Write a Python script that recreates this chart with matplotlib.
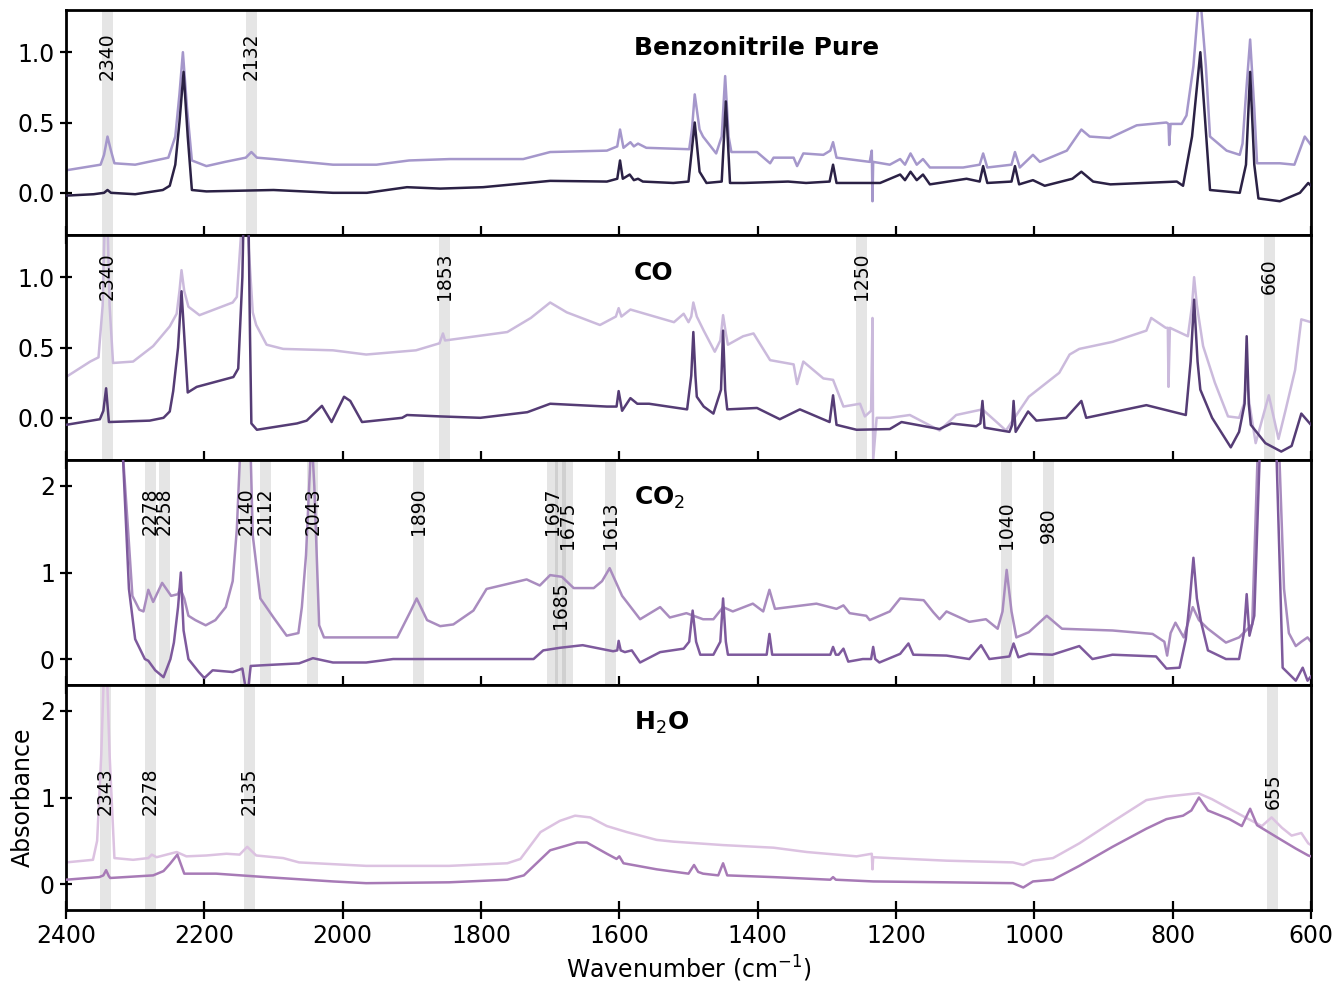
import matplotlib
matplotlib.use("Agg")
import matplotlib.pyplot as plt

# ---------------- data ----------------
x_ticks = [2400, 2200, 2000, 1800, 1600, 1400, 1200, 1000, 800, 600]
titles = ["Benzonitrile Pure", "CO", "CO$_2$", "H$_2$O"]

# Panel 1 : Benzonitrile pure
p1_dark_wn = [2400, 2360, 2345, 2340, 2335, 2300, 2260, 2250, 2242, 2236, 2230, 2224, 2218, 2197,
              2100, 2014, 1965, 1907, 1859, 1797, 1700, 1618, 1603, 1599, 1595, 1585, 1579, 1573, 1566, 1522,
              1500, 1491, 1484, 1474, 1452, 1446, 1440, 1420, 1356, 1330, 1296, 1291, 1286, 1235,
              1223, 1194, 1187, 1179, 1170, 1161, 1151, 1098, 1079, 1074, 1068, 1033, 1028, 1022,
              1002, 985, 945, 932, 915, 890, 794, 785, 772, 760, 750, 746, 703, 694, 688, 682, 676,
              645, 616, 604, 600]
p1_dark_ab = [-0.02, -0.01, 0.0, 0.02, 0.0, -0.01, 0.02, 0.05, 0.2, 0.5, 0.86, 0.4, 0.02, 0.01,
              0.02, 0.0, 0.0, 0.04, 0.03, 0.04, 0.085, 0.08, 0.1, 0.23, 0.1, 0.13, 0.09, 0.1, 0.08, 0.07,
              0.08, 0.5, 0.15, 0.07, 0.08, 0.65, 0.07, 0.07, 0.08, 0.07, 0.08, 0.2, 0.07, 0.07,
              0.07, 0.13, 0.09, 0.15, 0.09, 0.13, 0.06, 0.1, 0.08, 0.19, 0.07, 0.08, 0.19, 0.06,
              0.09, 0.05, 0.1, 0.15, 0.08, 0.06, 0.08, 0.05, 0.4, 1.0, 0.3, 0.02, 0.0, 0.2, 0.86, 0.2,
              -0.04, -0.06, 0.0, 0.07, 0.05]

p1_light_wn = [2400, 2350, 2345, 2340, 2335, 2330, 2300, 2252, 2242, 2236, 2231, 2225, 2218, 2197,
               2170, 2140, 2132, 2124, 2100, 2014, 1951, 1904, 1845, 1800, 1739, 1700, 1618, 1603, 1599,
               1594, 1584, 1579, 1573, 1561, 1499, 1495, 1491, 1484, 1479, 1460, 1452, 1447, 1442, 1438,
               1401, 1382, 1377, 1348, 1343, 1334, 1305, 1295, 1291, 1286, 1238, 1235, 1234, 1233, 1209,
               1194, 1187, 1179, 1170, 1161, 1151, 1103, 1079, 1074, 1068, 1033, 1028, 1021, 1002, 992,
               953, 932, 920, 891, 852, 809, 806, 805, 803, 787, 780, 770, 761, 752, 746, 722, 703, 699,
               694, 688, 682, 678, 645, 624, 609, 600]
p1_light_ab = [0.16, 0.2, 0.27, 0.4, 0.3, 0.21, 0.2, 0.25, 0.4, 0.7, 1.0, 0.6, 0.23, 0.19,
               0.22, 0.25, 0.29, 0.25, 0.24, 0.2, 0.2, 0.23, 0.24, 0.24, 0.24, 0.29, 0.3, 0.33, 0.45,
               0.32, 0.36, 0.33, 0.35, 0.32, 0.31, 0.45, 0.7, 0.45, 0.4, 0.28, 0.4, 0.83, 0.4, 0.29,
               0.29, 0.21, 0.25, 0.25, 0.19, 0.28, 0.27, 0.3, 0.36, 0.25, 0.22, 0.3, -0.06, 0.22, 0.2,
               0.24, 0.2, 0.28, 0.2, 0.24, 0.18, 0.18, 0.2, 0.28, 0.18, 0.2, 0.29, 0.18, 0.27, 0.22,
               0.3, 0.45, 0.4, 0.39, 0.48, 0.5, 0.49, 0.34, 0.49, 0.49, 0.55, 0.9, 1.45, 0.9, 0.4, 0.3, 0.27, 0.35,
               0.7, 1.09, 0.6, 0.21, 0.21, 0.2, 0.4, 0.34]

# Panel 2 : CO
p2_dark_wn = [2400, 2351, 2346, 2342, 2338, 2279, 2259, 2250, 2245, 2238, 2233, 2228, 2224, 2211,
              2158, 2151, 2145, 2139, 2134, 2132, 2124, 2066, 2052, 2030, 2016, 1998, 1989, 1972, 1914, 1907,
              1859, 1801, 1733, 1700, 1618, 1604, 1601, 1596, 1584, 1574, 1557, 1502, 1496, 1493, 1490,
              1488, 1478, 1464, 1453, 1450, 1447, 1444, 1401, 1368, 1339, 1296, 1291, 1286, 1257,
              1209, 1192, 1137, 1120, 1084, 1078, 1075, 1072, 1036, 1032, 1030, 1027, 1009, 997,
              954, 932, 925, 838, 781, 774, 769, 764, 760, 743, 716, 704, 696, 693, 690, 687, 666,
              643, 628, 614, 600]
p2_dark_ab = [-0.05, -0.01, 0.05, 0.21, -0.03, -0.02, 0.0, 0.045, 0.19, 0.5, 0.9, 0.5, 0.18, 0.22,
              0.29, 0.35, 1.0, 2.5, 0.6, -0.04, -0.085, -0.04, -0.02, 0.085, -0.03, 0.15, 0.12, -0.03, 0.0, 0.02,
              0.01, 0.0, 0.04, 0.1, 0.08, 0.08, 0.19, 0.05, 0.14, 0.1, 0.1, 0.06, 0.3, 0.61, 0.3,
              0.15, 0.08, 0.03, 0.2, 0.62, 0.2, 0.06, 0.07, -0.01, 0.06, -0.03, 0.16, -0.05, -0.085,
              -0.08, -0.03, -0.08, -0.04, -0.06, -0.04, 0.12, -0.07, -0.1, -0.05, 0.12, -0.1, 0.045, -0.02,
              0.0, 0.12, 0.0, 0.09, 0.02, 0.4, 0.84, 0.4, 0.2, 0.0, -0.21, -0.1, 0.1, 0.58, 0.1, -0.05, -0.18,
              -0.24, -0.2, 0.03, -0.05]

p2_light_wn = [2400, 2365, 2353, 2347, 2342, 2337, 2332, 2303, 2274, 2250, 2240, 2236, 2233, 2229,
               2223, 2207, 2159, 2153, 2147, 2142, 2137, 2130, 2125, 2110, 2086, 2014, 1966, 1894, 1860,
               1855, 1852, 1762, 1728, 1700, 1676, 1628, 1605, 1601, 1597, 1584, 1521, 1507, 1500, 1496,
               1493, 1488, 1478, 1462, 1454, 1450, 1446, 1443, 1421, 1406, 1382, 1348, 1343, 1334, 1305,
               1291, 1276, 1252, 1245, 1236, 1234, 1233, 1228, 1209, 1180, 1137, 1113, 1075, 1041, 1008,
               964, 949, 935, 887, 838, 831, 810, 807, 806, 804, 778, 772, 769, 765, 756, 739, 720, 704,
               697, 693, 689, 680, 661, 647, 637, 623, 614, 600]
p2_light_ab = [0.29, 0.4, 0.43, 0.8, 1.8, 0.8, 0.39, 0.4, 0.51, 0.65, 0.74, 0.9, 1.05, 0.9,
               0.79, 0.73, 0.82, 0.86, 1.3, 2.0, 1.3, 0.75, 0.66, 0.52, 0.49, 0.48, 0.45, 0.48, 0.53,
               0.6, 0.55, 0.61, 0.71, 0.82, 0.75, 0.66, 0.72, 0.78, 0.72, 0.77, 0.68, 0.74, 0.68, 0.72,
               0.82, 0.72, 0.62, 0.47, 0.55, 0.73, 0.6, 0.52, 0.58, 0.6, 0.41, 0.38, 0.24, 0.4, 0.28,
               0.27, 0.08, 0.1, 0.01, 0.05, 0.71, -0.3, 0.0, 0.0, 0.02, -0.09, 0.02, 0.06, -0.09, 0.15,
               0.32, 0.45, 0.49, 0.54, 0.62, 0.71, 0.64, 0.64, 0.22, 0.64, 0.58, 0.8, 1.0, 0.8, 0.51, 0.25, 0.01, 0.0,
               0.1, 0.28, 0.1, -0.18, 0.16, -0.15, 0.05, 0.34, 0.7, 0.68]

# Panel 3 : CO2
p3_dark_wn = [2400, 2330, 2318, 2309, 2300, 2286, 2281, 2271, 2259, 2249, 2244, 2238, 2234, 2230, 2223,
              2208, 2200, 2188, 2159, 2145, 2141, 2139, 2136, 2133, 2111, 2063, 2043, 2014, 1966, 1927,
              1846, 1811, 1724, 1710, 1686, 1653, 1609, 1603, 1601, 1598, 1592, 1582, 1570, 1541,
              1507, 1499, 1494, 1489, 1483, 1464, 1454, 1450, 1446, 1443, 1387, 1383, 1379, 1295,
              1291, 1287, 1283, 1276, 1269, 1248, 1236, 1233, 1230, 1224, 1194, 1182, 1175, 1127, 1094,
              1077, 1065, 1036, 1030, 1023, 1008, 974, 935, 916, 887, 824, 809, 790, 781, 775, 770, 765,
              759, 749, 723, 704, 697, 693, 689, 682, 674, 662, 650, 641, 622, 612, 605, 600]
p3_dark_ab = [5.0, 3.5, 2.4, 0.81, 0.23, 0.0, -0.02, -0.13, -0.21, 0.0, 0.19, 0.6, 1.0, 0.33, 0.0,
              -0.15, -0.22, -0.13, -0.15, -0.11, -0.3, -0.5, -0.3, -0.08, -0.07, -0.05, 0.01, -0.04, -0.04, 0.0,
              0.0, 0.0, 0.0, 0.1, 0.13, 0.16, 0.09, 0.1, 0.21, 0.1, 0.08, 0.1, -0.04, 0.08,
              0.12, 0.2, 0.56, 0.2, 0.05, 0.05, 0.2, 0.7, 0.2, 0.05, 0.05, 0.29, 0.05, 0.05,
              0.14, 0.05, 0.05, 0.12, -0.03, 0.0, 0.0, 0.14, 0.0, -0.04, 0.06, 0.18, 0.05, 0.04, 0.0,
              0.16, 0.0, 0.03, 0.18, 0.02, 0.06, 0.05, 0.15, 0.0, 0.05, 0.03, -0.11, -0.1, 0.23, 0.7, 1.17, 0.7,
              0.43, 0.1, 0.0, 0.0, 0.3, 0.75, 0.27, 0.5, 2.4, 4.0, 2.4, -0.1, -0.25, -0.1, -0.25, -0.2]

p3_light_wn = [2400, 2330, 2318, 2311, 2304, 2294, 2288, 2281, 2274, 2261, 2248, 2238, 2235, 2229, 2223,
               2213, 2198, 2184, 2169, 2159, 2153, 2145, 2140, 2135, 2130, 2119, 2100, 2081, 2064, 2059,
               2053, 2045, 2041, 2034, 2027, 1921, 1902, 1893, 1878, 1859, 1840, 1811, 1792, 1734, 1715,
               1700, 1683, 1666, 1637, 1625, 1614, 1596, 1570, 1541, 1527, 1503, 1479, 1464, 1450, 1436,
               1407, 1392, 1383, 1375, 1315, 1286, 1276, 1267, 1243, 1238, 1209, 1194, 1160, 1146, 1137,
               1127, 1094, 1070, 1053, 1046, 1040, 1033, 1026, 1008, 982, 960, 887, 829, 812, 808, 803,
               796, 784, 771, 762, 749, 723, 704, 685, 677, 662, 646, 639, 632, 622, 614, 605, 600]
p3_light_ab = [5.0, 3.5, 2.4, 1.58, 0.73, 0.57, 0.55, 0.8, 0.66, 0.88, 0.73, 0.75, 0.82, 0.7, 0.5,
               0.45, 0.39, 0.45, 0.6, 0.9, 1.5, 3.0, 4.0, 3.0, 1.43, 0.7, 0.48, 0.27, 0.3, 0.6,
               1.2, 2.6, 2.0, 0.39, 0.25, 0.25, 0.55, 0.7, 0.45, 0.38, 0.4, 0.56, 0.81, 0.92, 0.85,
               0.97, 0.95, 0.82, 0.82, 0.9, 1.05, 0.73, 0.46, 0.6, 0.48, 0.53, 0.46, 0.46, 0.6, 0.55,
               0.64, 0.55, 0.8, 0.58, 0.64, 0.58, 0.62, 0.53, 0.5, 0.45, 0.55, 0.7, 0.68, 0.54, 0.46,
               0.55, 0.43, 0.46, 0.35, 0.55, 1.03, 0.55, 0.25, 0.31, 0.5, 0.35, 0.33, 0.29, 0.2, 0.04, 0.3,
               0.42, 0.25, 0.6, 0.45, 0.35, 0.19, 0.25, 0.4, 2.4, 4.0, 2.4, 0.81, 0.3, 0.15, 0.2, 0.25, 0.2]

# Panel 4 : H2O
p4_dark_wn = [2400, 2352, 2346, 2342, 2338, 2336, 2274, 2259, 2250, 2239, 2229, 2183, 2111, 2014, 1966,
              1846, 1762, 1738, 1700, 1661, 1647, 1618, 1604, 1600, 1594, 1546, 1500, 1492, 1486,
              1479, 1457, 1450, 1444, 1377, 1295, 1291, 1287, 1233, 1127, 1031, 1016, 1002, 973, 935,
              887, 838, 809, 785, 773, 762, 749, 718, 700, 688, 678, 645, 622, 604, 600]
p4_dark_ab = [0.05, 0.08, 0.1, 0.16, 0.09, 0.07, 0.1, 0.15, 0.23, 0.34, 0.12, 0.12, 0.08, 0.03, 0.01,
              0.02, 0.05, 0.1, 0.39, 0.48, 0.48, 0.35, 0.29, 0.32, 0.24, 0.17, 0.12, 0.22, 0.14,
              0.12, 0.1, 0.24, 0.1, 0.08, 0.05, 0.08, 0.05, 0.03, 0.02, 0.01, -0.04, 0.03, 0.05, 0.21,
              0.43, 0.64, 0.75, 0.79, 0.85, 1.0, 0.85, 0.75, 0.67, 0.87, 0.68, 0.52, 0.41, 0.33, 0.32]

p4_light_wn = [2400, 2361, 2355, 2349, 2343, 2337, 2330, 2303, 2281, 2276, 2269, 2240, 2226, 2197, 2168,
               2149, 2138, 2125, 2086, 2063, 1966, 1846, 1762, 1743, 1714, 1686, 1664, 1642, 1618, 1589,
               1546, 1522, 1450, 1377, 1329, 1257, 1235, 1234, 1233, 1209, 1127, 1031, 1016, 1002, 973,
               935, 887, 838, 809, 763, 743, 695, 671, 657, 642, 628, 614, 604, 600]
p4_light_ab = [0.25, 0.28, 0.5, 1.5, 3.0, 1.5, 0.3, 0.28, 0.3, 0.34, 0.31, 0.37, 0.32, 0.33, 0.35,
               0.34, 0.43, 0.33, 0.3, 0.25, 0.21, 0.21, 0.24, 0.29, 0.6, 0.73, 0.79, 0.77, 0.67, 0.6,
               0.51, 0.49, 0.45, 0.42, 0.37, 0.32, 0.35, 0.17, 0.31, 0.3, 0.27, 0.25, 0.22, 0.27, 0.3,
               0.47, 0.72, 0.97, 1.01, 1.05, 0.98, 0.77, 0.67, 0.77, 0.65, 0.56, 0.59, 0.47, 0.45]

# marked band positions (cm-1) and label heights per panel
p1_bands = [2340, 2132]
p1_label_y = [0.97, 0.97]
p2_bands = [2340, 1853, 1250, 660]
p2_label_y = [1.01, 1.01, 1.01, 1.01]
p3_bands = [2278, 2258, 2140, 2112, 2043, 1890, 1697, 1685, 1675, 1613, 1040, 980]
p3_label_y = [1.71, 1.71, 1.71, 1.71, 1.71, 1.71, 1.71, 0.62, 1.55, 1.55, 1.55, 1.55]
p4_bands = [2343, 2278, 2135, 655]
p4_label_y = [1.07, 1.07, 1.07, 1.07]

# ---------------- styling ----------------
dark_colors = ["#2b2145", "#553c75", "#7e5a9d", "#a77ab6"]
light_colors = ["#a597cb", "#cbbadc", "#a98cbf", "#dcc2e1"]
ylims = [(-0.3, 1.3), (-0.3, 1.3), (-0.3, 2.3), (-0.3, 2.3)]
yticks = [[0.0, 0.5, 1.0], [0.0, 0.5, 1.0], [0, 1, 2], [0, 1, 2]]
ytick_fmt = ["{:.1f}", "{:.1f}", "{:d}", "{:d}"]

panels = [
    (p1_dark_wn, p1_dark_ab, p1_light_wn, p1_light_ab, p1_bands, p1_label_y),
    (p2_dark_wn, p2_dark_ab, p2_light_wn, p2_light_ab, p2_bands, p2_label_y),
    (p3_dark_wn, p3_dark_ab, p3_light_wn, p3_light_ab, p3_bands, p3_label_y),
    (p4_dark_wn, p4_dark_ab, p4_light_wn, p4_light_ab, p4_bands, p4_label_y),
]

fig, axes = plt.subplots(4, 1, figsize=(13.44, 9.9), dpi=100, sharex=True)
fig.subplots_adjust(left=66 / 1344, right=1311 / 1344, top=1 - 10 / 990,
                    bottom=1 - 910 / 990, hspace=0)

for i, (ax, pan) in enumerate(zip(axes, panels)):
    dwn, dab, lwn, lab, bands, laby = pan
    for b, yb in zip(bands, laby):
        ax.axvspan(b - 8, b + 8, color="gray", alpha=0.2, lw=0, zorder=0)
        ax.text(b, yb, str(b), rotation=90, ha="center", va="center",
                fontsize=13.5, zorder=5)
    ax.plot(lwn, lab, color=light_colors[i], lw=1.8, zorder=2)
    ax.plot(dwn, dab, color=dark_colors[i], lw=1.8, zorder=3)
    ax.text(0.456, 0.83, titles[i], transform=ax.transAxes, ha="left", va="center",
            fontsize=18, fontweight="bold")
    ax.set_ylim(*ylims[i])
    ax.set_yticks(yticks[i])
    ax.set_yticklabels([ytick_fmt[i].format(v) for v in yticks[i]])
    ax.tick_params(axis="y", direction="inout", length=9, width=1.6, labelsize=17)
    ax.tick_params(axis="x", direction="inout", length=13, width=1.6, labelsize=17)
    for s in ax.spines.values():
        s.set_linewidth(2)

axes[-1].set_xlim(2400, 600)
axes[-1].set_xticks(x_ticks)
axes[-1].set_xticklabels([str(v) for v in x_ticks])
axes[-1].set_xlabel("Wavenumber (cm$^{-1}$)", fontsize=17)
axes[-1].set_ylabel("Absorbance", fontsize=17)

fig.savefig("out.png", dpi=100)
